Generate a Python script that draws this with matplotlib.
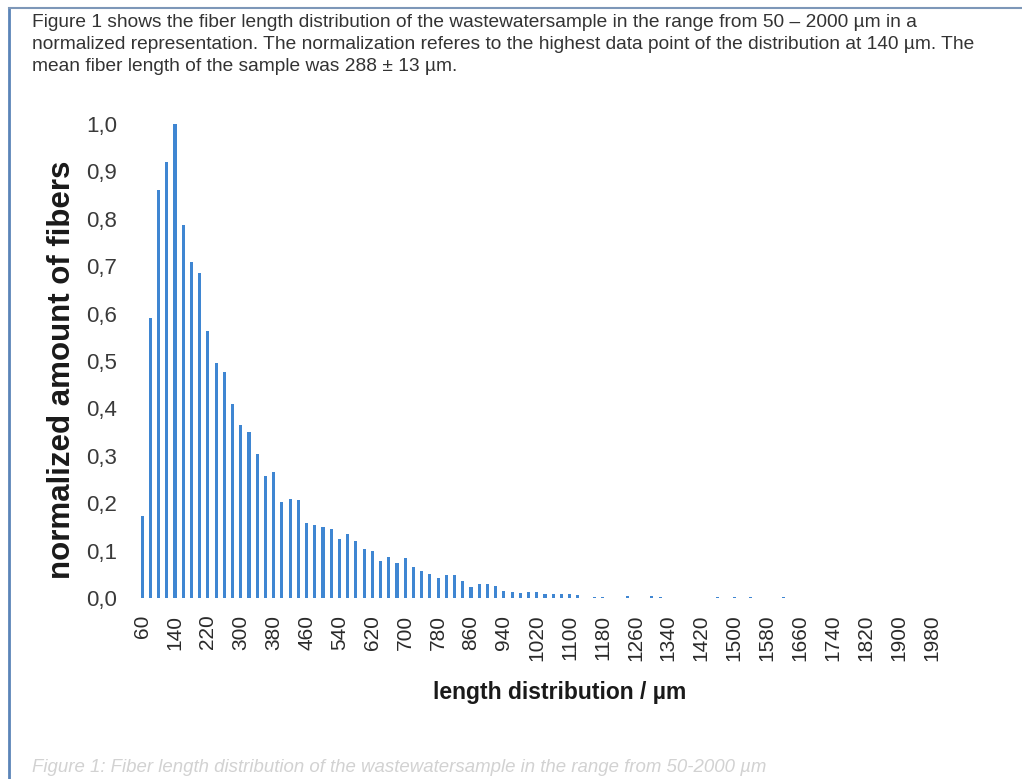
import matplotlib
matplotlib.use("Agg")
import matplotlib.pyplot as plt
import numpy as np
from matplotlib.lines import Line2D

# ---- data ----
lengths_um = list(range(60, 2000, 20))  # 60 ... 1980
values = [
    0.173, 0.590, 0.861, 0.920, 1.000, 0.787, 0.709, 0.685, 0.564, 0.495,
    0.477, 0.409, 0.366, 0.351, 0.303, 0.258, 0.266, 0.203, 0.209, 0.206,
    0.158, 0.155, 0.150, 0.146, 0.125, 0.134, 0.120, 0.103, 0.099, 0.078,
    0.086, 0.073, 0.084, 0.066, 0.058, 0.051, 0.042, 0.048, 0.049, 0.036,
    0.024, 0.029, 0.029, 0.026, 0.015, 0.013, 0.011, 0.012, 0.013, 0.008,
    0.008, 0.008, 0.008, 0.007, 0.000, 0.002, 0.003, 0.000, 0.000, 0.004,
    0.000, 0.000, 0.004, 0.003, 0.000, 0.000, 0.000, 0.000, 0.000, 0.000,
    0.003, 0.000, 0.002, 0.000, 0.002, 0.000, 0.000, 0.000, 0.002, 0.000,
    0.000, 0.000, 0.000, 0.000, 0.000, 0.000, 0.000, 0.001, 0.000, 0.000,
    0.000, 0.000, 0.000, 0.000, 0.000, 0.000, 0.000,
]
ytick_values = [0.0, 0.1, 0.2, 0.3, 0.4, 0.5, 0.6, 0.7, 0.8, 0.9, 1.0]
ytick_labels = ["0,0", "0,1", "0,2", "0,3", "0,4", "0,5", "0,6", "0,7", "0,8", "0,9", "1,0"]
xtick_step = 4  # label every 80 µm

intro_text = ("Figure 1 shows the fiber length distribution of the wastewatersample in the range from 50 \u2013 2000 \u00b5m in a\n"
              "normalized representation. The normalization referes to the highest data point of the distribution at 140 \u00b5m. The\n"
              "mean fiber length of the sample was 288 \u00b1 13 \u00b5m.")
caption_text = "Figure 1: Fiber length distribution of the wastewatersample in the range from 50-2000 \u00b5m"

sans = ["Liberation Sans", "DejaVu Sans"]

fig = plt.figure(figsize=(10.22, 7.79), dpi=100)
fig.patch.set_facecolor("white")

W, H = 1022, 779
left_px, right_px, top_px, bottom_px = 138, 935.5, 124, 598
ax = fig.add_axes([left_px / W, 1 - bottom_px / H, (right_px - left_px) / W, (bottom_px - top_px) / H])

x = np.arange(len(lengths_um))
ax.bar(x, values, width=0.38, color="#3f86d2", linewidth=0)
ax.set_xlim(-0.5, len(lengths_um) - 0.5)
ax.set_ylim(0, 1.0)

ax.set_yticks(ytick_values)
ax.set_yticklabels(ytick_labels, fontsize=16, color="#3a3a3a", family=sans)
ax.set_xticks(x[::xtick_step])
ax.set_xticklabels([str(v) for v in lengths_um[::xtick_step]], rotation=90,
                   fontsize=15, color="#2a2a2a", family=sans)
ax.tick_params(axis="y", length=0, pad=15)
ax.tick_params(axis="x", length=0, pad=12)
for s in ax.spines.values():
    s.set_visible(False)

ax.set_ylabel("normalized amount of fibers", fontsize=22.5, fontweight="bold",
              family=sans, color="#1a1a1a")
ax.yaxis.set_label_coords((62 - left_px) / (right_px - left_px), (598 - 370) / (bottom_px - top_px))
ax.set_xlabel("length distribution / \u00b5m", fontsize=16.5, fontweight="bold",
              family=sans, color="#1a1a1a")
ax.xaxis.set_label_coords((560 - left_px) / (right_px - left_px), -(693 - bottom_px) / (bottom_px - top_px))
ax.xaxis.label.set_va("center")
ax.yaxis.label.set_va("center")

# intro paragraph
fig.text(32 / W, 1 - 14 / H, intro_text, ha="left", va="top", fontsize=13.8,
         family=sans, color="#333333", linespacing=1.38)
# caption
fig.text(32 / W, 1 - 767 / H, caption_text, ha="left", va="center", fontsize=13.4,
         family=sans, style="italic", color="#d2d2d2")

# frame lines
fig.add_artist(Line2D([9 / W, 9 / W], [0, 1 - 8 / H], transform=fig.transFigure,
                      color="#5b84b8", linewidth=2))
fig.add_artist(Line2D([9 / W, 1], [1 - 8 / H, 1 - 8 / H], transform=fig.transFigure,
                      color="#7d97b8", linewidth=1.5))

fig.savefig("out.png", dpi=100)
